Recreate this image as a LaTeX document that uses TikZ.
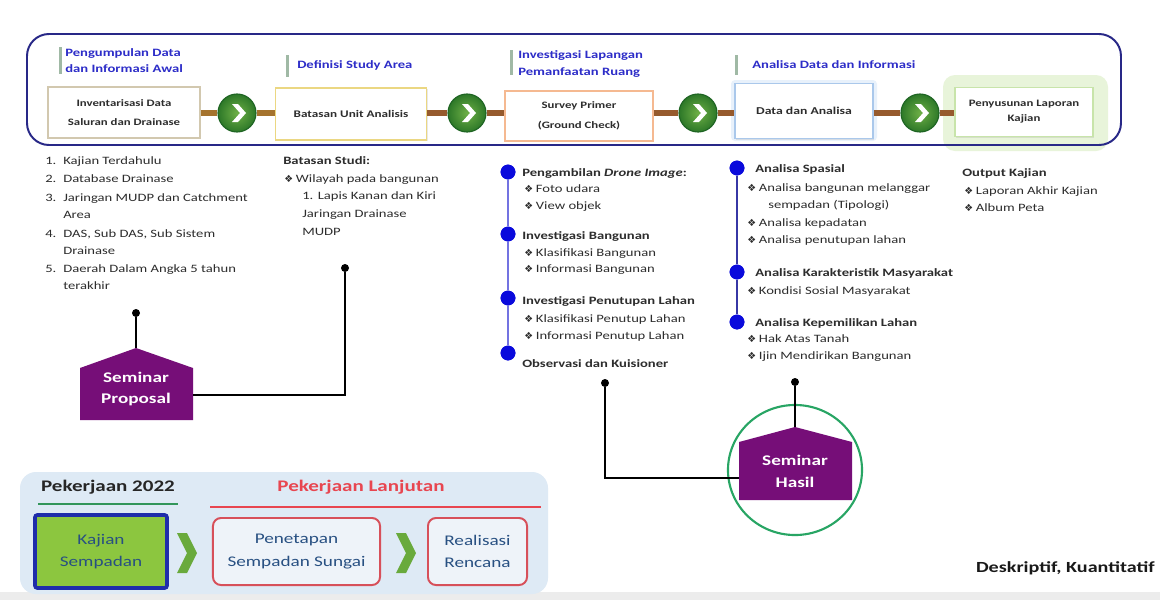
\documentclass[tikz,border=0pt]{standalone}
\usepackage{fontspec}
\setmainfont{Carlito}[FakeStretch=1.3]
\newfontfamily\symf{DejaVu Sans}
\usetikzlibrary{shadows,calc}
\definecolor{navy}{RGB}{40,40,135}
\definecolor{txt}{RGB}{45,45,45}
\definecolor{hblue}{RGB}{45,45,200}
\definecolor{hbar}{RGB}{160,185,165}
\definecolor{gdark}{RGB}{30,100,35}
\definecolor{gmid}{RGB}{45,120,40}
\definecolor{glight}{RGB}{110,175,70}
\definecolor{dotblue}{RGB}{10,10,220}
\definecolor{lineA}{RGB}{115,115,225}
\definecolor{lineB}{RGB}{55,55,165}
\definecolor{purp}{RGB}{118,14,120}
\definecolor{ringgreen}{RGB}{40,165,100}
\definecolor{panel}{RGB}{222,234,245}
\definecolor{boxin}{RGB}{238,243,249}
\definecolor{redb}{RGB}{215,80,90}
\definecolor{redt}{RGB}{232,70,80}
\definecolor{kgreen}{RGB}{140,198,63}
\definecolor{kblue}{RGB}{30,45,170}
\definecolor{ktext}{RGB}{40,80,130}
\definecolor{chev}{RGB}{105,170,60}
\definecolor{brownA}{RGB}{165,115,45}
\definecolor{brownB}{RGB}{150,90,45}
\definecolor{bd1}{RGB}{210,200,175}
\definecolor{bd2}{RGB}{235,215,130}
\definecolor{bd3}{RGB}{245,185,145}
\definecolor{bd4}{RGB}{170,200,235}
\definecolor{bd5}{RGB}{200,228,170}
\definecolor{glowg}{RGB}{232,244,218}
\definecolor{glowb}{RGB}{232,241,251}
\definecolor{uline}{RGB}{50,150,90}
\definecolor{strip}{RGB}{236,236,236}
\newcommand\bulsym{{\symf\fontsize{7}{7}\selectfont ❖}\hspace{2pt}}
\newcommand\chevin[1]{\fill[white] ($(#1)+(-5,-9)$) -- ++(6,0) -- ++(8,9) -- ++(-8,9) -- ++(-6,0) -- ++(8,-9) -- cycle;}
\tikzset{
  pbox/.style={draw, fill=white, line width=1.2pt, align=center, text=txt, inner sep=2pt,
    drop shadow={opacity=0.18,shadow xshift=0.8pt,shadow yshift=-0.8pt}},
  hdr/.style={anchor=west, align=left, text=hblue, inner sep=0pt},
  lt/.style={anchor=west, font=\fontsize{8}{10}\selectfont, text=txt, inner sep=0pt, text height=1.6ex, text depth=0.4ex},
  lb/.style={lt, font=\fontsize{8}{10}\selectfont\bfseries},
  gcirc/.style={circle, minimum size=0.95cm, inner sep=0pt, draw=gdark, line width=0.8pt, inner color=glight, outer color=gmid},
  bdot/.style={circle, fill=dotblue, minimum size=0.37cm, inner sep=0pt},
  kdot/.style={circle, fill=black, minimum size=0.2cm, inner sep=0pt},
  conn/.style={line width=2pt, black},
  stext/.style={align=center, text=white, font=\fontsize{10.5}{15.5}\selectfont\bfseries, inner sep=0pt},
  hbarst/.style={fill=hbar},
  rbox/.style={draw=redb, fill=boxin, line width=1.4pt, rounded corners=0.2cm, align=center, text=ktext, font=\fontsize{10.5}{16}\selectfont, minimum height=1.675cm},
  brl/.style={line width=4pt}
}
\begin{document}
\begin{tikzpicture}[x=0.025cm,y=-0.025cm]
\useasboundingbox (0,0) rectangle (1160,600);
\fill[white] (0,0) rectangle (1160,600);
\fill[strip] (0,592) rectangle (1160,600);

% glows
\fill[glowg, rounded corners=0.3cm] (943,75) rectangle (1108,151);
\fill[glowb, rounded corners=0.1cm] (731,80) rectangle (877,141);

% frame
\draw[navy, line width=1.4pt, rounded corners=0.55cm] (27,34) rectangle (1121,145);

% process boxes
\node[pbox, draw=bd1, minimum width=3.8cm, minimum height=1.275cm,
  font=\fontsize{7}{14}\selectfont\bfseries] (b1) at (124,112.5) {Inventarisasi Data\\Saluran dan Drainase};
\node[pbox, draw=bd2, minimum width=3.775cm, minimum height=1.3cm,
  font=\fontsize{7.2}{14}\selectfont\bfseries] (b2) at (351,114) {Batasan Unit Analisis};
\node[pbox, draw=bd3, minimum width=3.7cm, minimum height=1.25cm,
  font=\fontsize{7}{14.5}\selectfont\bfseries] (b3) at (579,116) {Survey Primer\\(Ground Check)};
\node[pbox, draw=bd4, minimum width=3.45cm, minimum height=1.375cm,
  font=\fontsize{7.5}{14}\selectfont\bfseries] (b4) at (804,111) {Data dan Analisa};
\node[pbox, draw=bd5, minimum width=3.45cm, minimum height=1.225cm,
  font=\fontsize{7}{10.6}\selectfont\bfseries] (b5) at (1024,112) {Penyusunan Laporan\\Kajian};

% header labels
\fill[hbarst] (59,47) rectangle (62,74);
\node[hdr, font=\fontsize{8}{11}\selectfont\bfseries] (h1) at (65,60.5) {Pengumpulan Data\\dan Informasi Awal};
\fill[hbarst] (286,55) rectangle (289,77);
\node[hdr, font=\fontsize{8}{11}\selectfont\bfseries] (h2) at (297,65) {Definisi Study Area};
\fill[hbarst] (510,50) rectangle (513,75);
\node[hdr, font=\fontsize{8}{12.5}\selectfont\bfseries] (h3) at (518,64) {Investigasi Lapangan\\Pemanfaatan Ruang};
\fill[hbarst] (735,55) rectangle (738,75);
\node[hdr, font=\fontsize{8}{11}\selectfont\bfseries] (h4) at (752,65) {Analisa Data dan Informasi};

% green arrow circles
\node[gcirc] (c1) at (237,113) {};
\node[gcirc] (c2) at (467,113) {};
\node[gcirc] (c3) at (698,113) {};
\node[gcirc] (c4) at (920,113) {};

% brown connecting line (behind circles)
\begin{scope}
\draw[brl, brownA] (b1.east |- c1) -- (c1.west);
\draw[brl, brownA] (c1.east) -- (b2.west |- c1);
\draw[brl, brownB] (b2.east |- c2) -- (c2.west);
\draw[brl, brownB] (c2.east) -- (b3.west |- c2);
\draw[brl, brownB] (b3.east |- c3) -- (c3.west);
\draw[brl, brownB] (c3.east) -- (b4.west |- c3);
\draw[brl, brownB] (b4.east |- c4) -- (c4.west);
\draw[brl, brownB] (c4.east) -- (b5.west |- c4);
\end{scope}
\chevin{c1}\chevin{c2}\chevin{c3}\chevin{c4}

% left numbered list
\node[lt] (n1) at (45,160) {1.}; \node[lt] (l1) at (63,160) {Kajian Terdahulu};
\node[lt] (n2) at (45,178) {2.}; \node[lt] (l2) at (63,178) {Database Drainase};
\node[lt] (n3) at (45,197) {3.}; \node[lt] (l3) at (63,197) {Jaringan MUDP dan Catchment};
\node[lt] (l3b) at (63,214) {Area};
\node[lt] (n4) at (45,233) {4.}; \node[lt] (l4) at (63,233) {DAS, Sub DAS, Sub Sistem};
\node[lt] (l4b) at (63,250) {Drainase};
\node[lt] (n5) at (45,268) {5.}; \node[lt] (l5) at (63,268) {Daerah Dalam Angka 5 tahun};
\node[lt] (l5b) at (63,285) {terakhir};

% batasan studi
\node[lb] (bs) at (283,160) {Batasan Studi:};
\node[lt] (bs1) at (284,178) {\bulsym Wilayah pada bangunan};
\node[lt] (bs2) at (302,195) {1. Lapis Kanan dan Kiri};
\node[lt] (bs3) at (302,213) {Jaringan Drainase};
\node[lt] (bs4) at (302,231) {MUDP};

% column A
\node[bdot] (da1) at (508,172) {};
\node[bdot] (da2) at (508,234) {};
\node[bdot] (da3) at (508,298) {};
\node[bdot] (da4) at (508,353) {};
\draw[lineA, line width=1.6pt] (da1) -- (da2) -- (da3) -- (da4);
\node[bdot] at (da1) {};\node[bdot] at (da2) {};\node[bdot] at (da3) {};\node[bdot] at (da4) {};
\node[lb] (a1) at (522,172) {Pengambilan \textit{Drone Image}:};
\node[lt] (a1a) at (524,188) {\bulsym Foto udara};
\node[lt] (a1b) at (524,205) {\bulsym View objek};
\node[lb] (a2) at (522,235) {Investigasi Bangunan};
\node[lt] (a2a) at (524,252) {\bulsym Klasifikasi Bangunan};
\node[lt] (a2b) at (524,268) {\bulsym Informasi Bangunan};
\node[lb] (a3) at (522,300) {Investigasi Penutupan Lahan};
\node[lt] (a3a) at (524,318) {\bulsym Klasifikasi Penutup Lahan};
\node[lt] (a3b) at (524,335) {\bulsym Informasi Penutup Lahan};
\node[lb] (a4) at (522,363) {Observasi dan Kuisioner};

% column B
\node[bdot] (db1) at (737,168) {};
\node[bdot] (db2) at (737,272) {};
\node[bdot] (db3) at (737,322) {};
\draw[lineB, line width=1.6pt] (db1) -- (db2) -- (db3);
\node[bdot] at (db1) {};\node[bdot] at (db2) {};\node[bdot] at (db3) {};
\node[lb] (bb1) at (755,168) {Analisa Spasial};
\node[lt] (bb1a) at (747,187) {\bulsym Analisa bangunan melanggar};
\node[lt] (bb1b) at (768,204) {sempadan (Tipologi)};
\node[lt] (bb1c) at (747,222) {\bulsym Analisa kepadatan};
\node[lt] (bb1d) at (747,239) {\bulsym Analisa penutupan lahan};
\node[lb] (bb2) at (755,272) {Analisa Karakteristik Masyarakat};
\node[lt] (bb2a) at (747,290) {\bulsym Kondisi Sosial Masyarakat};
\node[lb] (bb3) at (755,322) {Analisa Kepemilikan Lahan};
\node[lt] (bb3a) at (747,338) {\bulsym Hak Atas Tanah};
\node[lt] (bb3b) at (747,355) {\bulsym Ijin Mendirikan Bangunan};

% column C
\node[lb] (oc) at (962,172) {Output Kajian};
\node[lt] (oc1) at (964,190) {\bulsym Laporan Akhir Kajian};
\node[lt] (oc2) at (964,207) {\bulsym Album Peta};

% seminar proposal
\fill[purp] (80,420) -- (80,368) -- (136,348) -- (193,368) -- (193,420) -- cycle;
\coordinate (spTop) at (136,348);
\coordinate (spRight) at (193,395);
\node[stext] (sp) at (136,389) {Seminar\\Proposal};
\node[kdot] (k1) at (136,313) {};
\node[kdot] (k2) at (345,268) {};
\draw[conn] (k1) -- (spTop);
\draw[conn] (k2) |- (spRight);

% seminar hasil
\draw[ringgreen, line width=1.5pt] (795,470) ellipse [x radius=1.675cm, y radius=1.625cm];
\fill[purp] (739,500) -- (739,442) -- (795,427) -- (852,442) -- (852,500) -- cycle;
\coordinate (shTop) at (795,427);
\coordinate (shLeft) at (739,478);
\node[stext] (sh) at (795,471) {Seminar\\Hasil};
\node[kdot] (k3) at (605,383) {};
\node[kdot] (k4) at (795,382) {};
\draw[conn] (k3) |- (shLeft);
\draw[conn] (k4) -- (shTop);

% bottom panel
\fill[panel, rounded corners=0.4cm] (20,472) rectangle (548,594);
\node[font=\fontsize{11.5}{14}\selectfont\bfseries, text=black!85] (p1) at (108,487) {Pekerjaan 2022};
\draw[uline, line width=1.4pt] (38,504) -- (178,504);
\node[font=\fontsize{11.5}{14}\selectfont\bfseries, text=redt] (p2) at (361,487) {Pekerjaan Lanjutan};
\draw[redt, line width=1.4pt] (210,507) -- (541,507);
\node[draw=kblue, fill=kgreen, line width=2.6pt, rounded corners=0.06cm, minimum width=3.3cm, minimum height=1.825cm,
  align=center, text=ktext, font=\fontsize{10.5}{16}\selectfont] (kj) at (101,551.5) {Kajian\\Sempadan};
\node[rbox, minimum width=4.175cm] (pm) at (296.5,551.5) {Penetapan\\Sempadan Sungai};
\node[rbox, minimum width=2.475cm] (rr) at (477.5,551.5) {Realisasi\\Rencana};
\coordinate (ch1) at (177,533);
\coordinate (ch2) at (396,533);
\fill[chev] (ch1) -- ++(10,0) -- ++(10,20) -- ++(-10,20) -- ++(-10,0) -- ++(10,-20) -- cycle;
\fill[chev] (ch2) -- ++(10,0) -- ++(10,20) -- ++(-10,20) -- ++(-10,0) -- ++(10,-20) -- cycle;

% method
\node[anchor=east, font=\fontsize{11}{13}\selectfont\bfseries, text=black!90, inner sep=0pt] (dk) at (1155,568) {Deskriptif, Kuantitatif};
\end{tikzpicture}
\end{document}
